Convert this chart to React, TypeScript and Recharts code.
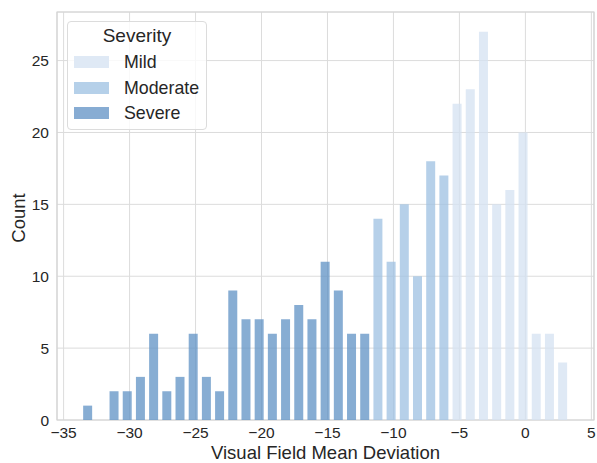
import React from 'react'
import { BarChart, Bar, CartesianGrid, XAxis, YAxis, ReferenceArea } from 'recharts'

// bin centres (Visual Field Mean Deviation) and counts per severity group
const severeBins = [-33.17, -32.17, -31.17, -30.17, -29.17, -28.17, -27.17, -26.17, -25.17, -24.17, -23.17, -22.17, -21.17, -20.17, -19.17, -18.17, -17.17, -16.17, -15.17, -14.17, -13.17, -12.17]
const severeCounts = [1, 0, 2, 2, 3, 6, 2, 3, 6, 3, 2, 9, 7, 7, 6, 7, 8, 7, 11, 9, 6, 6]
const moderateBins = [-11.17, -10.17, -9.17, -8.17, -7.17, -6.17]
const moderateCounts = [14, 11, 15, 10, 18, 17]
const mildBins = [-5.17, -4.17, -3.17, -2.17, -1.17, -0.17, 0.83, 1.83, 2.83]
const mildCounts = [22, 23, 27, 15, 16, 20, 6, 6, 4]

const xTicks = [-35, -30, -25, -20, -15, -10, -5, 0, 5]
const yTicks = [0, 5, 10, 15, 20, 25]
const legendItems = ['Mild', 'Moderate', 'Severe']

const X_DOMAIN: [number, number] = [-35.5, 5.2]
const Y_DOMAIN: [number, number] = [0, 28.38]

const colors: Record<string, string> = {
  Mild: '#d4e2f2',
  Moderate: '#9dc0e1',
  Severe: '#5f91c4',
}
const legendColors: Record<string, string> = {
  Mild: '#dfe9f5',
  Moderate: '#b5d0e9',
  Severe: '#87acd3',
}

const data = [
  ...severeBins.map((x, i) => ({ x, severe: severeCounts[i] })),
  ...moderateBins.map((x, i) => ({ x, moderate: moderateCounts[i] })),
  ...mildBins.map((x, i) => ({ x, mild: mildCounts[i] })),
]

const FONT = '"Liberation Sans", Arial, sans-serif'
const fmt = (v: number) => String(v).replace('-', '\u2212')
const tickStyle = { fill: '#262626', fontSize: 15.5, fontFamily: FONT }

export default function App() {
  return (
    <div style={{ position: 'absolute', left: 0, top: 0, width: 597, height: 463, background: '#fff', fontFamily: FONT }}>
      <BarChart width={597} height={463} data={data} margin={{ top: 12, right: 3, left: 0, bottom: 0 }}>
        <CartesianGrid stroke="#dcdcdc" strokeWidth={1} />
        <XAxis
          type="number"
          dataKey="x"
          domain={X_DOMAIN}
          ticks={xTicks}
          allowDataOverflow
          tickFormatter={fmt}
          tick={tickStyle}
          tickLine={false}
          tickSize={0}
          tickMargin={7}
          axisLine={false}
          height={43}
          label={{ value: 'Visual Field Mean Deviation', position: 'insideBottom', offset: 4, fill: '#262626', fontSize: 18.5, fontFamily: FONT }}
        />
        <YAxis
          type="number"
          domain={Y_DOMAIN}
          ticks={yTicks}
          allowDataOverflow
          tick={tickStyle}
          tickLine={false}
          tickSize={0}
          tickMargin={8}
          axisLine={false}
          width={57}
          label={{
            content: () => (
              <text x={25} y={218} transform="rotate(-90 25 218)" textAnchor="middle" fill="#262626" fontSize={18.5} fontFamily={FONT}>
                Count
              </text>
            ),
          }}
        />
        <Bar dataKey="severe" stackId="h" barSize={9} fill={colors.Severe} fillOpacity={0.75} isAnimationActive={false} />
        <Bar dataKey="moderate" stackId="h" barSize={9} fill={colors.Moderate} fillOpacity={0.75} isAnimationActive={false} />
        <Bar dataKey="mild" stackId="h" barSize={9} fill={colors.Mild} fillOpacity={0.75} isAnimationActive={false} />
        <ReferenceArea x1={X_DOMAIN[0]} x2={X_DOMAIN[1]} y1={Y_DOMAIN[0]} y2={Y_DOMAIN[1]} fill="none" stroke="#d4d4d4" strokeWidth={1.2} ifOverflow="visible" />
      </BarChart>

      <div
        style={{
          position: 'absolute',
          left: 67,
          top: 21,
          width: 140,
          height: 109,
          boxSizing: 'border-box',
          border: '1px solid #dcdcdc',
          borderRadius: 4,
          background: 'rgba(255,255,255,0.8)',
          color: '#262626',
        }}
      >
        <div style={{ position: 'absolute', left: 0, right: 0, top: 3, textAlign: 'center', fontSize: 19, lineHeight: '22px' }}>Severity</div>
        {legendItems.map((name, i) => (
          <div key={name} style={{ position: 'absolute', left: 6, top: 30 + i * 25.5, height: 20, display: 'flex', alignItems: 'center' }}>
            <div style={{ width: 35, height: 12, background: legendColors[name] }} />
            <span style={{ marginLeft: 15, fontSize: 17.8, lineHeight: '20px' }}>{name}</span>
          </div>
        ))}
      </div>
    </div>
  )
}
